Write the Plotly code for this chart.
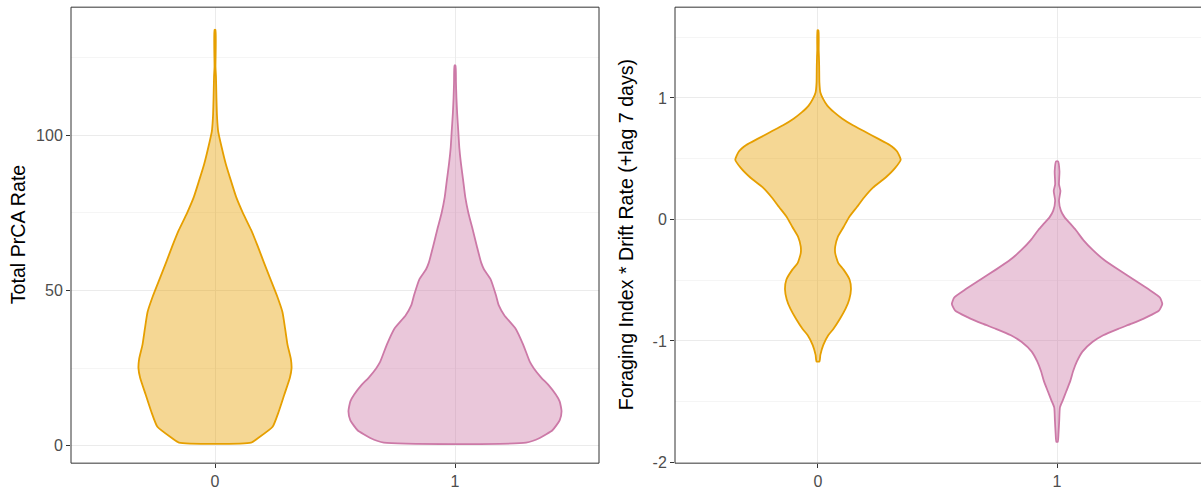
import plotly.graph_objects as go

# ---------------- data ----------------
categories = ["0", "1"]
cat_pos = [0, 1]

prca_ticks = [0, 50, 100]
prca_tick_labels = ["0", "50", "100"]
fdr_ticks = [-2, -1, 0, 1]
fdr_tick_labels = ["-2", "-1", "0", "1"]

# Panel 1: Total PrCA Rate  -- violin profiles (value, half-width in category units)
prca_g0_y = [1.0, 2.5, 6.1, 11.1, 16.5, 21.9, 25.0, 28.0, 32.6, 37.8, 43.1, 48.4, 53.7,
             59.0, 64.3, 69.6, 74.9, 80.2, 85.5, 90.8, 96.1, 101.4, 104.0, 106.7, 112.0,
             119.0, 122.0, 134.0]
prca_g0_w = [0.150, 0.180, 0.240, 0.266, 0.289, 0.312, 0.319, 0.316, 0.302, 0.292, 0.281,
             0.258, 0.231, 0.204, 0.178, 0.150, 0.117, 0.088, 0.066, 0.045, 0.028, 0.013,
             0.010, 0.008, 0.006, 0.004, 0.002, 0.002]

prca_g1_y = [1.0, 2.5, 5.0, 8.2, 11.1, 14.3, 16.5, 19.6, 21.9, 25.0, 27.0, 32.6, 37.8,
             42.0, 45.3, 48.4, 53.7, 56.8, 59.0, 64.3, 69.6, 74.9, 80.0, 85.5, 90.8,
             96.0, 101.0, 107.0, 112.0, 117.0, 122.5]
prca_g1_w = [0.296, 0.353, 0.406, 0.436, 0.444, 0.436, 0.420, 0.389, 0.360, 0.328, 0.312,
             0.284, 0.252, 0.206, 0.182, 0.171, 0.148, 0.121, 0.109, 0.091, 0.074, 0.056,
             0.043, 0.034, 0.025, 0.018, 0.014, 0.009, 0.006, 0.004, 0.002]

# Panel 2: Foraging Index * Drift Rate (+lag 7 days)
fdr_g0_y = [-1.169, -1.115, -1.034, -0.953, -0.900, -0.818, -0.737, -0.656, -0.575,
            -0.494, -0.413, -0.359, -0.278, -0.224, -0.143, -0.062, 0.019, 0.100, 0.181,
            0.262, 0.343, 0.424, 0.491, 0.559, 0.613, 0.667, 0.720, 0.775, 0.829, 0.883,
            0.937, 0.990, 1.045, 1.125, 1.260, 1.340, 1.395, 1.557]
fdr_g0_w = [0.006, 0.010, 0.022, 0.043, 0.065, 0.092, 0.115, 0.131, 0.138, 0.132, 0.107,
            0.085, 0.072, 0.072, 0.083, 0.107, 0.130, 0.162, 0.193, 0.230, 0.282, 0.323,
            0.346, 0.331, 0.300, 0.249, 0.199, 0.146, 0.102, 0.067, 0.039, 0.022, 0.010,
            0.006, 0.005, 0.004, 0.003, 0.002]

fdr_g1_y = [-1.830, -1.762, -1.655, -1.547, -1.493, -1.412, -1.331, -1.250, -1.169,
            -1.088, -1.007, -0.953, -0.900, -0.858, -0.804, -0.750, -0.696, -0.642,
            -0.575, -0.494, -0.413, -0.332, -0.251, -0.170, -0.089, -0.035, 0.019, 0.073,
            0.154, 0.235, 0.289, 0.397, 0.478]
fdr_g1_w = [0.003, 0.006, 0.009, 0.012, 0.023, 0.039, 0.055, 0.067, 0.083, 0.106, 0.149,
            0.193, 0.256, 0.312, 0.375, 0.426, 0.440, 0.430, 0.383, 0.320, 0.256, 0.196,
            0.149, 0.110, 0.079, 0.055, 0.031, 0.016, 0.008, 0.014, 0.008, 0.010, 0.004]

line_colors = ["#E69F00", "#CC79A7"]
fill_colors = ["rgba(230,159,0,0.42)", "rgba(204,121,167,0.42)"]

y_title_1 = "Total PrCA Rate"
y_title_2 = "Foraging Index * Drift Rate (+lag 7 days)"


def violin_path(center, ys, ws):
    xs = [center - w for w in ws] + [center + w for w in reversed(ws)]
    yy = list(ys) + list(reversed(ys))
    xs.append(xs[0])
    yy.append(yy[0])
    return xs, yy


fig = go.Figure()

panels = [
    ("x", "y", [(prca_g0_y, prca_g0_w), (prca_g1_y, prca_g1_w)]),
    ("x2", "y2", [(fdr_g0_y, fdr_g0_w), (fdr_g1_y, fdr_g1_w)]),
]
for xa, ya, groups in panels:
    for i, (ys, ws) in enumerate(groups):
        xs, yy = violin_path(cat_pos[i], ys, ws)
        fig.add_trace(go.Scatter(
            x=xs, y=yy, xaxis=xa, yaxis=ya, mode="lines", fill="toself",
            fillcolor=fill_colors[i],
            line=dict(color=line_colors[i], width=1.8, shape="spline", smoothing=0.5),
            showlegend=False, hoverinfo="skip"))

W, H = 1201, 500
ydom = [1 - 470.7 / H, 1 - 7.3 / H]
x1dom = [71.0 / W, 599.0 / W]
x2dom = [675.0 / W, 1.0]

tickfont = dict(family="Liberation Sans, Arial, sans-serif", size=16, color="#4D4D4D")
grid_major = "#EBEBEB"

common_x = dict(tickmode="array", tickvals=cat_pos, ticktext=categories,
                showgrid=True, gridcolor=grid_major, gridwidth=1, zeroline=False,
                ticks="outside", ticklen=4, tickwidth=1, tickcolor="#333333",
                tickfont=tickfont, showline=False, fixedrange=True)
common_y = dict(showgrid=True, gridcolor=grid_major, gridwidth=1, zeroline=False,
                ticks="outside", ticklen=4, tickwidth=1, tickcolor="#333333",
                tickfont=tickfont, showline=False, fixedrange=True, tickmode="array")

fig.update_layout(
    width=W, height=H,
    margin=dict(l=0, r=0, t=0, b=0),
    paper_bgcolor="white", plot_bgcolor="white",
    font=dict(family="Liberation Sans, Arial, sans-serif"),
    hovermode=False,
    xaxis=dict(domain=x1dom, range=[-0.6, 1.6], anchor="y", **common_x),
    yaxis=dict(domain=ydom, range=[-5.61, 141.3], anchor="x",
               tickvals=prca_ticks, ticktext=prca_tick_labels,
               minor=dict(dtick=25, tick0=0, showgrid=True, gridcolor="#EEEEEE", gridwidth=0.6),
               **common_y),
    xaxis2=dict(domain=x2dom, range=[-0.598, 1.602], anchor="y2", **common_x),
    yaxis2=dict(domain=ydom, range=[-2.006, 1.747], anchor="x2",
                tickvals=fdr_ticks, ticktext=fdr_tick_labels,
                minor=dict(dtick=0.5, tick0=0, showgrid=True, gridcolor="#EEEEEE", gridwidth=0.6),
                **common_y),
)

# panel borders
border = dict(color="#333333", width=1)
fig.add_shape(type="rect", xref="x domain", yref="y domain", x0=0, x1=1, y0=0, y1=1,
              line=border, fillcolor="rgba(0,0,0,0)")
fig.add_shape(type="path", xref="x2 domain", yref="y2 domain",
              path="M 1.5,1 L 0,1 L 0,0 L 1.5,0", line=border)

# axis titles
title_font = dict(family="Liberation Sans, Arial, sans-serif", size=19.6, color="black")
ymid = (ydom[0] + ydom[1]) / 2
fig.add_annotation(text=y_title_1, xref="paper", yref="paper", x=18.0 / W, y=ymid,
                   textangle=-90, showarrow=False, font=title_font,
                   xanchor="center", yanchor="middle")
fig.add_annotation(text=y_title_2, xref="paper", yref="paper", x=626.0 / W, y=ymid,
                   textangle=-90, showarrow=False, font=title_font,
                   xanchor="center", yanchor="middle")

# remove the default page margin so the figure fills the 1201x500 window exactly
fig.write_html("out.html",
               config={"displayModeBar": False, "staticPlot": True},
               post_script="document.body.style.margin='0';document.body.style.overflow='hidden';")
